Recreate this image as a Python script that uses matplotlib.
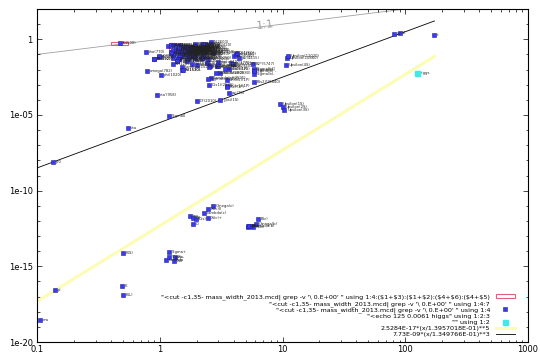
import matplotlib
import matplotlib.pyplot as plt
import numpy as np
from matplotlib.lines import Line2D
from matplotlib.patches import Patch, Rectangle

matplotlib.use("Agg")

names = [
    "mu", "tau", "W", "Z", "t",
    "pi", "pi0", "eta", "f0(500)", "rho(770)", "omega(782)", "eta'(958)",
    "f0(980)", "a0(980)", "phi(1020)", "h1(1170)", "b1(1235)", "a1(1260)",
    "f2(1270)", "f1(1285)", "eta(1295)", "pi(1300)", "a2(1320)", "f0(1370)",
    "pi1(1400)", "eta(1405)", "f1(1420)", "omega(1420)", "a0(1450)",
    "rho(1450)", "eta(1475)", "f0(1500)", "f2'(1525)", "pi1(1600)",
    "eta2(1645)", "omega(1650)", "omega3(1670)", "pi2(1670)", "phi(1680)",
    "rho3(1690)", "rho(1700)", "f0(1710)", "pi(1800)", "phi3(1850)",
    "pi2(1880)", "f2(1950)", "f2(2010)", "a4(2040)", "f4(2050)", "phi(2170)",
    "f2(2300)", "f2(2340)",
    "K", "K(S)", "K(L)", "K*(892)", "K*(892)0", "K1(1270)", "K1(1400)",
    "K*(1410)", "K0*(1430)", "K2*(1430)", "K*(1680)", "K2(1770)",
    "K3*(1780)", "K2(1820)", "K4*(2045)",
    "D", "D0", "D*(2010)", "D0*(2400)", "D1(2420)", "D2*(2460)", "D(s)",
    "D(s1)(2536)", "D(s2)*(2573)", "D(s1)*(2700)",
    "B", "B0", "B(s)", "B(c)", "B2*(5747)", "B(s2)*(5840)",
    "eta(c)(1S)", "J/psi(1S)", "chi(c0)(1P)", "chi(c1)(1P)", "h(c)(1P)",
    "chi(c2)(1P)", "eta(c)(2S)", "psi(2S)", "psi(3770)", "chi(c2)(2P)",
    "psi(4040)", "psi(4160)", "X(4260)", "psi(4415)",
    "Upsilon(1S)", "Upsilon(2S)", "Upsilon(3S)", "Upsilon(4S)",
    "Upsilon(10860)", "Upsilon(11020)",
    "N(1440)", "N(1520)", "N(1535)", "N(1650)", "N(1675)", "N(1680)",
    "N(1700)", "N(1710)", "N(1720)", "N(1875)", "N(1900)", "N(2190)",
    "N(2220)", "N(2250)", "N(2600)",
    "Delta(1232)", "Delta(1600)", "Delta(1620)", "Delta(1700)",
    "Delta(1905)", "Delta(1910)", "Delta(1920)", "Delta(1930)",
    "Delta(1950)", "Delta(2420)",
    "Lambda", "Lambda(1405)", "Lambda(1520)", "Lambda(1600)", "Lambda(1670)",
    "Lambda(1690)", "Lambda(1800)", "Lambda(1810)", "Lambda(1820)",
    "Lambda(1830)", "Lambda(1890)", "Lambda(2100)", "Lambda(2110)",
    "Lambda(2350)",
    "Sigma+", "Sigma0", "Sigma-", "Sigma(1385)", "Sigma(1385)-",
    "Sigma(1660)", "Sigma(1670)", "Sigma(1750)", "Sigma(1775)",
    "Sigma(1915)", "Sigma(1940)", "Sigma(2030)", "Sigma(2250)",
    "Xi0", "Xi-", "Xi(1530)", "Xi(1530)-", "Xi(1820)", "Xi(1950)",
    "Xi(2030)", "Omega(2250)",
    "Lambda(c)", "Lambda(c)(2595)", "Lambda(c)(2880)", "Lambda(c)(2940)",
    "Sigma(c)(2455)", "Sigma(c)(2520)", "Xi(c)+", "Xi(c)0", "Xi(c)(2980)",
    "Xi(c)(3080)", "Omega(c)",
    "Lambda(b)", "Sigma(b)", "Sigma(b)-", "Sigma(b)*", "Sigma(b)*-",
    "Xi(b)", "Omega(b)",
]
mass = [
    0.10566, 1.77682, 80.385, 91.1876, 173.07,
    0.13957, 0.13498, 0.54785, 0.475, 0.77549, 0.78265, 0.95778,
    0.990, 0.980, 1.01946, 1.170, 1.2295, 1.230,
    1.2751, 1.2819, 1.294, 1.300, 1.3183, 1.350,
    1.354, 1.4089, 1.4264, 1.425, 1.474,
    1.465, 1.476, 1.505, 1.525, 1.662,
    1.617, 1.670, 1.667, 1.6722, 1.680,
    1.6888, 1.720, 1.720, 1.812, 1.854,
    1.895, 1.944, 2.011, 1.996, 2.018, 2.175,
    2.297, 2.339,
    0.49368, 0.49761, 0.49761, 0.89166, 0.89594, 1.272, 1.403,
    1.414, 1.425, 1.4256, 1.717, 1.773,
    1.776, 1.816, 2.045,
    1.86962, 1.86486, 2.01026, 2.318, 2.4214, 2.4626, 1.96849,
    2.53511, 2.5719, 2.709,
    5.27925, 5.27958, 5.36677, 6.2756, 5.7435, 5.8397,
    2.9837, 3.09692, 3.41475, 3.51066, 3.52541,
    3.5562, 3.6394, 3.68611, 3.77315, 3.9272,
    4.039, 4.153, 4.251, 4.421,
    9.4603, 10.02326, 10.3552, 10.5794,
    10.876, 11.019,
    1.440, 1.515, 1.535, 1.655, 1.675, 1.685,
    1.700, 1.710, 1.720, 1.875, 1.900, 2.190,
    2.250, 2.275, 2.600,
    1.232, 1.600, 1.630, 1.700,
    1.880, 1.890, 1.920, 1.950,
    1.930, 2.420,
    1.11568, 1.4051, 1.5195, 1.600, 1.670,
    1.690, 1.800, 1.810, 1.820,
    1.830, 1.890, 2.100, 2.110,
    2.350,
    1.18937, 1.19264, 1.19745, 1.3828, 1.3872,
    1.660, 1.670, 1.750, 1.775,
    1.915, 1.940, 2.030, 2.250,
    1.31486, 1.32171, 1.5318, 1.535, 1.823, 1.950,
    2.025, 2.252,
    2.28646, 2.5921, 2.8815, 2.9393,
    2.45398, 2.5184, 2.4678, 2.47088, 2.971,
    3.0772, 2.6952,
    5.6194, 5.8113, 5.8155, 5.8321, 5.8351,
    5.7911, 6.071,
]
width = [
    3.0e-19, 2.27e-12, 2.085, 2.4952, 2.0,
    2.53e-17, 7.73e-9, 1.31e-6, 0.55, 0.1491, 0.00849, 1.98e-4,
    0.070, 0.075, 0.00426, 0.360, 0.142, 0.425,
    0.1851, 0.0242, 0.055, 0.400, 0.107, 0.350,
    0.330, 0.0511, 0.0549, 0.215, 0.265,
    0.400, 0.085, 0.109, 0.073, 0.241,
    0.181, 0.315, 0.168, 0.260, 0.150,
    0.161, 0.250, 0.135, 0.208, 0.087,
    0.235, 0.472, 0.202, 0.255, 0.237, 0.061,
    0.149, 0.319,
    5.32e-17, 7.35e-15, 1.29e-17, 0.0508, 0.0487, 0.090, 0.174,
    0.232, 0.270, 0.0985, 0.322, 0.186,
    0.159, 0.276, 0.198,
    6.33e-13, 1.61e-12, 8.34e-5, 0.267, 0.0272, 0.049, 1.32e-12,
    9.2e-4, 0.017, 0.117,
    4.02e-13, 4.33e-13, 4.35e-13, 1.30e-12, 0.0227, 0.00149,
    0.032, 9.29e-5, 0.0105, 8.4e-4, 7.0e-4,
    1.93e-3, 0.011, 2.99e-4, 0.0272, 0.024,
    0.080, 0.103, 0.120, 0.062,
    5.40e-5, 3.20e-5, 2.03e-5, 0.0205,
    0.055, 0.079,
    0.300, 0.115, 0.150, 0.140, 0.150, 0.130,
    0.150, 0.100, 0.250, 0.220, 0.250, 0.500,
    0.400, 0.500, 0.650,
    0.117, 0.320, 0.140, 0.300,
    0.330, 0.280, 0.260, 0.360,
    0.285, 0.400,
    2.50e-15, 0.0505, 0.0156, 0.150, 0.035,
    0.060, 0.300, 0.150, 0.080,
    0.095, 0.100, 0.200, 0.200,
    0.150,
    8.21e-15, 8.9e-6, 4.45e-15, 0.036, 0.0394,
    0.100, 0.060, 0.090, 0.120,
    0.120, 0.220, 0.180, 0.100,
    2.27e-15, 4.02e-15, 0.0091, 0.0099, 0.024, 0.060,
    0.020, 0.055,
    3.30e-12, 2.6e-3, 5.8e-3, 0.017,
    2.26e-3, 0.0149, 1.49e-12, 5.87e-12, 0.018,
    5.6e-3, 9.5e-12,
    4.49e-13, 9.7e-3, 4.9e-3, 0.0115, 7.5e-3,
    4.2e-13, 5.8e-13,
]

# error boxes: mass range and width range
box_mass_lo = [0.400, 1.19, 1.20]
box_mass_hi = [0.550, 1.27, 1.40]
box_width_lo = [0.40, 0.25, 0.20]
box_width_hi = [0.70, 0.60, 0.60]

higgs_mass = 125.0
higgs_width = 0.0061

# fits: pi+ (weak, m^5) and pi0 (em, m^3)
weak_norm, weak_m0 = 2.5284e-17, 1.3957018e-01
em_norm, em_m0 = 7.73e-09, 1.349766e-01
fit_xmax = 173.0

yellow = "#fcfcb4"
red = "#e0607a"
blue_fc, blue_ec = "#3a3af0", "#2020a0"
cyan = "#40e8e8"

fig = plt.figure(figsize=(5.4, 3.56), dpi=100)
ax = fig.add_axes([0.0685, 0.0393, 0.9093, 0.9354])
ax.set_xscale("log")
ax.set_yscale("log")
ax.set_xlim(0.1, 1000)
ax.set_ylim(1e-20, 1e2)

for m0, m1, w0, w1 in zip(box_mass_lo, box_mass_hi, box_width_lo, box_width_hi):
    ax.add_patch(Rectangle((m0, w0), m1 - m0, w1 - w0, fill=False,
                           edgecolor=red, lw=0.8, zorder=3))

ax.plot(mass, width, ls="none", marker="s", ms=2.3, mfc=blue_fc,
        mec=blue_ec, mew=0.4, zorder=4)
for n, m, w in zip(names, mass, width):
    ax.annotate(n, (m, w), xytext=(2, 0), textcoords="offset points",
                fontsize=2.7, color="#222222", va="center", zorder=5)

ax.annotate("higgs", (higgs_mass, higgs_width), xytext=(2, 0),
            textcoords="offset points", fontsize=2.7, color="#222222",
            va="center")
ax.plot([higgs_mass], [higgs_width], ls="none", marker="s", ms=3.6,
        color=cyan, zorder=4)

x = np.logspace(-1, np.log10(fit_xmax), 200)
ax.plot(x, weak_norm * (x / weak_m0) ** 5, color=yellow, lw=2.2, zorder=2)
ax.plot(x, em_norm * (x / em_m0) ** 3, color="black", lw=0.6, zorder=2)

xd = np.array([0.1, 1000])
ax.plot(xd, xd, color="#a0a0a0", lw=0.6, zorder=1)
ax.text(7.2, 9.0, "1:1", color="#a0a0a0", fontsize=8, rotation=7,
        ha="center", va="center")

ax.set_xticks([0.1, 1, 10, 100, 1000], ["0.1", "1", "10", "100", "1000"])
ax.set_xticks([k * 10.0 ** e for e in range(-1, 3) for k in range(2, 10)],
              minor=True)
ax.set_yticks([1e-20, 1e-15, 1e-10, 1e-5, 1],
              ["1e-20", "1e-15", "1e-10", "1e-05", "1"])
ax.set_yticks([10.0 ** e for e in range(-20, 3) if e % 5 != 0], minor=True)
ax.set_yticklabels([], minor=True)
ax.set_xticklabels([], minor=True)
ax.tick_params(which="both", direction="in", top=True, right=True,
               width=0.5, labelsize=6)
ax.tick_params(which="major", length=3.5)
ax.tick_params(which="minor", length=1.8)
ax.tick_params(axis="x", pad=2)
ax.tick_params(axis="y", pad=3)
for s in ax.spines.values():
    s.set_linewidth(0.8)

src = "\"<cut -c1,35- mass_width_2013.mcd| grep -v '\\ 0.E+00' \""
labels = [
    src + r" using 1:4:(\$1+\$3):(\$1+\$2):(\$4+\$6):(\$4+\$5)",
    src + " using 1:4:7",
    src + " using 1:4",
    "\"<echo 125 0.0061 higgs\" using 1:2:3",
    "\"\" using 1:2",
    "2.5284E-17*(x/1.3957018E-01)**5",
    "7.73E-09*(x/1.349766E-01)**3",
]
handles = [
    Patch(fill=False, edgecolor=red, lw=0.8),
    Line2D([], [], ls="none"),
    Line2D([], [], ls="none", marker="s", ms=2.3, mfc=blue_fc,
           mec=blue_ec, mew=0.4),
    Line2D([], [], ls="none"),
    Line2D([], [], ls="none", marker="s", ms=3.6, color=cyan),
    Line2D([], [], color=yellow, lw=2.2),
    Line2D([], [], color="black", lw=0.6),
]
ax.legend(handles, labels, loc="lower right", bbox_to_anchor=(0.98, 0.004),
          frameon=False, markerfirst=False, fontsize=4.6, borderpad=0,
          labelspacing=0.12, handlelength=3.0, handleheight=0.6,
          handletextpad=0.9)

plt.savefig("out.png", dpi=100)
plt.close()
